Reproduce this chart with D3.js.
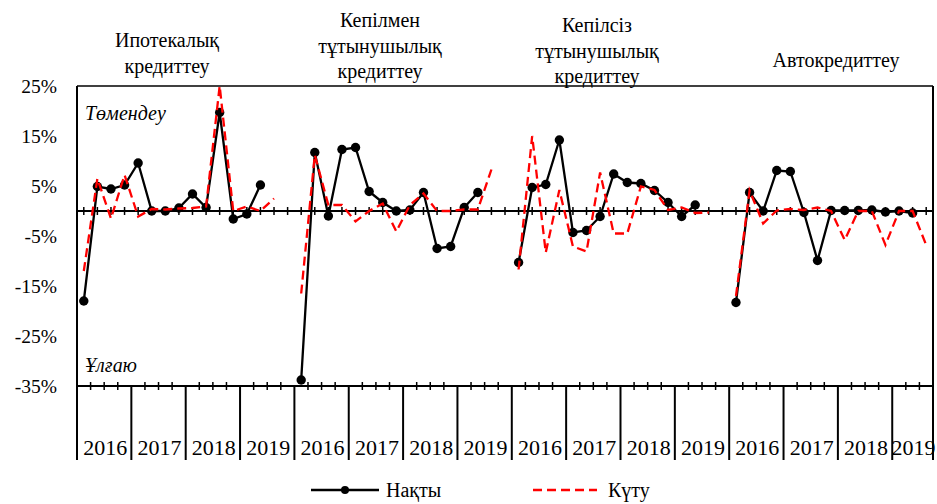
<!DOCTYPE html>
<html>
<head>
<meta charset="utf-8">
<script src="https://cdn.jsdelivr.net/npm/d3@7"></script>
<style>
  body { margin: 0; background: #fff; }
  text { font-family: "Liberation Serif", "Times New Roman", serif; fill: #000; }
</style>
</head>
<body>
<div id="chart"></div>
<script>
// panel titles (one entry per line)
const titles = [
  ["Ипотекалық", "кредиттеу"],
  ["Кепілмен", "тұтынушылық", "кредиттеу"],
  ["Кепілсіз", "тұтынушылық", "кредиттеу"],
  ["Автокредиттеу"]
];
const years = ["2016", "2017", "2018", "2019"];
// quarters shown for every year, per panel (last panel stops at 2019 Q3)
const quarters = [[4, 4, 4, 4], [4, 4, 4, 4], [4, 4, 4, 4], [4, 4, 4, 3]];

// actual values, 2016Q1 - 2019Q2
const actual1 = [-18, 4.9, 4.4, 5.2, 9.6, 0, 0, 0.6, 3.4, 0.7, 19.7, -1.6, -0.6, 5.2];
const actual2 = [-33.8, 11.7, -1.0, 12.3, 12.7, 3.9, 1.7, 0, 0.2, 3.7, -7.5, -7.1, 0.7, 3.7];
const actual3 = [-10.3, 4.7, 5.3, 14.2, -4.3, -3.9, -1.1, 7.4, 5.7, 5.5, 4.1, 1.7, -1.1, 1.2];
const actual4 = [-18.3, 3.7, 0, 8.1, 7.9, -0.3, -9.9, 0.1, 0.1, 0.1, 0.2, -0.2, 0, -0.4];

// expectations, 2016Q1 - 2019Q3
const expected1 = [-12, 6.5, -1.5, 7.2, -1.1, 0.4, 0.3, 0.5, 0.6, 0.9, 25, 0, 0.9, 0, 2.5];
const expected2 = [-16.5, 11.2, 1.2, 1.2, -2.1, 0, 1.5, -4.1, 1.2, 3.5, 0, 0, 0.3, 0.3, 8.3];
const expected3 = [-11.7, 15, -8.3, 4.2, -7.1, -8.1, 7.7, -4.5, -4.5, 4.9, 4.2, 0.2, 0.7, -0.4, -0.3];
const expected4 = [-17, 4.1, -2.5, 0.1, 0.4, 0.2, 0.7, 0, -5.8, 0, 0, -6.8, 0, 0, -6.8];

const yTicks = [25, 15, 5, -5, -15, -25, -35];
const legendLabels = ["Нақты", "Күту"];

const actual = [actual1, actual2, actual3, actual4];
const expected = [expected1, expected2, expected3, expected4];

// build the quarter categories
let cats = [];
let yearStarts = [];
let panelStarts = [];
quarters.forEach((qs, p) => {
  panelStarts.push(cats.length);
  qs.forEach((n, yi) => {
    yearStarts.push({ i: cats.length, n: n, label: years[yi] });
    for (let q = 0; q < n; q++) cats.push(p + "-" + years[yi] + "-" + (q + 1));
  });
});

const width = 937, height = 504;
const mLeft = 77, mRight = 933, mTop = 86, mBottom = 386;

const svg = d3.select("#chart")
  .append("svg")
  .attr("width", width)
  .attr("height", height);

let x = d3.scaleBand()
  .domain(cats)
  .range([mLeft, mRight]);
let y = d3.scaleLinear()
  .domain([-35, 25])
  .range([mBottom, mTop]);

const cx = i => x(cats[i]) + x.bandwidth() / 2;

// frame: top and right border, left axis
svg.append("line").attr("x1", mLeft).attr("x2", mRight).attr("y1", mTop).attr("y2", mTop)
  .attr("stroke", "black").attr("stroke-width", 1.5);
svg.append("line").attr("x1", mRight).attr("x2", mRight).attr("y1", mTop).attr("y2", 460)
  .attr("stroke", "black").attr("stroke-width", 2);
svg.append("line").attr("x1", mLeft).attr("x2", mLeft).attr("y1", mTop).attr("y2", 460)
  .attr("stroke", "black").attr("stroke-width", 2);

// y labels
yTicks.forEach(t =>
  svg.append("text")
    .attr("x", 57)
    .attr("y", y(t) + 7)
    .attr("text-anchor", "end")
    .style("font-size", "19.5px")
    .text(t + "%")
);

// zero line with ticks at category centres
svg.append("line").attr("x1", mLeft).attr("x2", mRight).attr("y1", y(0)).attr("y2", y(0))
  .attr("stroke", "black").attr("stroke-width", 2);
cats.forEach((c, i) =>
  svg.append("line")
    .attr("x1", cx(i)).attr("x2", cx(i))
    .attr("y1", y(0) - 4).attr("y2", y(0) + 4)
    .attr("stroke", "black").attr("stroke-width", 1.5)
);

// category axis at the bottom
svg.append("line").attr("x1", mLeft).attr("x2", mRight).attr("y1", mBottom).attr("y2", mBottom)
  .attr("stroke", "black").attr("stroke-width", 2);
const yearIdx = yearStarts.map(d => d.i);
cats.forEach((c, i) => {
  if (i == 0 || yearIdx.includes(i)) return;
  svg.append("line")
    .attr("x1", x(c)).attr("x2", x(c))
    .attr("y1", mBottom - 4).attr("y2", mBottom + 4)
    .attr("stroke", "black").attr("stroke-width", 1.5);
});
yearStarts.forEach(d => {
  let x0 = x(cats[d.i]);
  let x1 = x0 + x.bandwidth() * d.n;
  svg.append("line")
    .attr("x1", x0).attr("x2", x0)
    .attr("y1", mBottom).attr("y2", 460)
    .attr("stroke", "black").attr("stroke-width", 2);
  svg.append("text")
    .attr("x", (x0 + x1) / 2 + 1)
    .attr("y", 455)
    .attr("text-anchor", "middle")
    .style("font-size", "22px")
    .text(d.label);
});

// italic notes inside the plot
svg.append("text").attr("x", 85).attr("y", 120)
  .style("font-size", "20px").style("font-style", "italic").text("Төмендеу");
svg.append("text").attr("x", 85).attr("y", 372)
  .style("font-size", "20px").style("font-style", "italic").text("Ұлғаю");

// panel titles
const titleX = [167, 380, 597, 836];
const titleY = [40, 20, 25, 60];
titles.forEach((lines, p) => {
  lines.forEach((s, k) =>
    svg.append("text")
      .attr("x", titleX[p])
      .attr("y", titleY[p] + 25.5 * k + 7)
      .attr("text-anchor", "middle")
      .style("font-size", "20px")
      .text(s)
  );
});

let line = d3.line()
  .x(d => cx(d.i))
  .y(d => y(d.v));

// actual: black line with dots
actual.forEach((vals, p) => {
  let pts = vals.map((v, k) => ({ i: panelStarts[p] + k, v: v }));
  svg.append("path")
    .datum(pts)
    .attr("d", line)
    .attr("fill", "none")
    .attr("stroke", "black")
    .attr("stroke-width", 2.3);
  svg.selectAll(null)
    .data(pts)
    .enter()
    .append("circle")
    .attr("cx", d => cx(d.i))
    .attr("cy", d => y(d.v))
    .attr("r", 4.7)
    .attr("fill", "black");
});

// expectations: red dashed line on top
expected.forEach((vals, p) => {
  let pts = vals.map((v, k) => ({ i: panelStarts[p] + k, v: v }));
  svg.append("path")
    .datum(pts)
    .attr("d", line)
    .attr("fill", "none")
    .attr("stroke", "#ff0000")
    .attr("stroke-width", 2.3)
    .attr("stroke-dasharray", "9,5");
});

// legend
svg.append("line").attr("x1", 311).attr("x2", 379).attr("y1", 490).attr("y2", 490)
  .attr("stroke", "black").attr("stroke-width", 2.3);
svg.append("circle").attr("cx", 345).attr("cy", 490).attr("r", 4).attr("fill", "black");
svg.append("text").attr("x", 386).attr("y", 497).style("font-size", "20px").text(legendLabels[0]);
svg.append("line").attr("x1", 533).attr("x2", 597).attr("y1", 490).attr("y2", 490)
  .attr("stroke", "#ff0000").attr("stroke-width", 2.3).attr("stroke-dasharray", "9,5");
svg.append("text").attr("x", 608).attr("y", 497).style("font-size", "20px").text(legendLabels[1]);
</script>
</body>
</html>
